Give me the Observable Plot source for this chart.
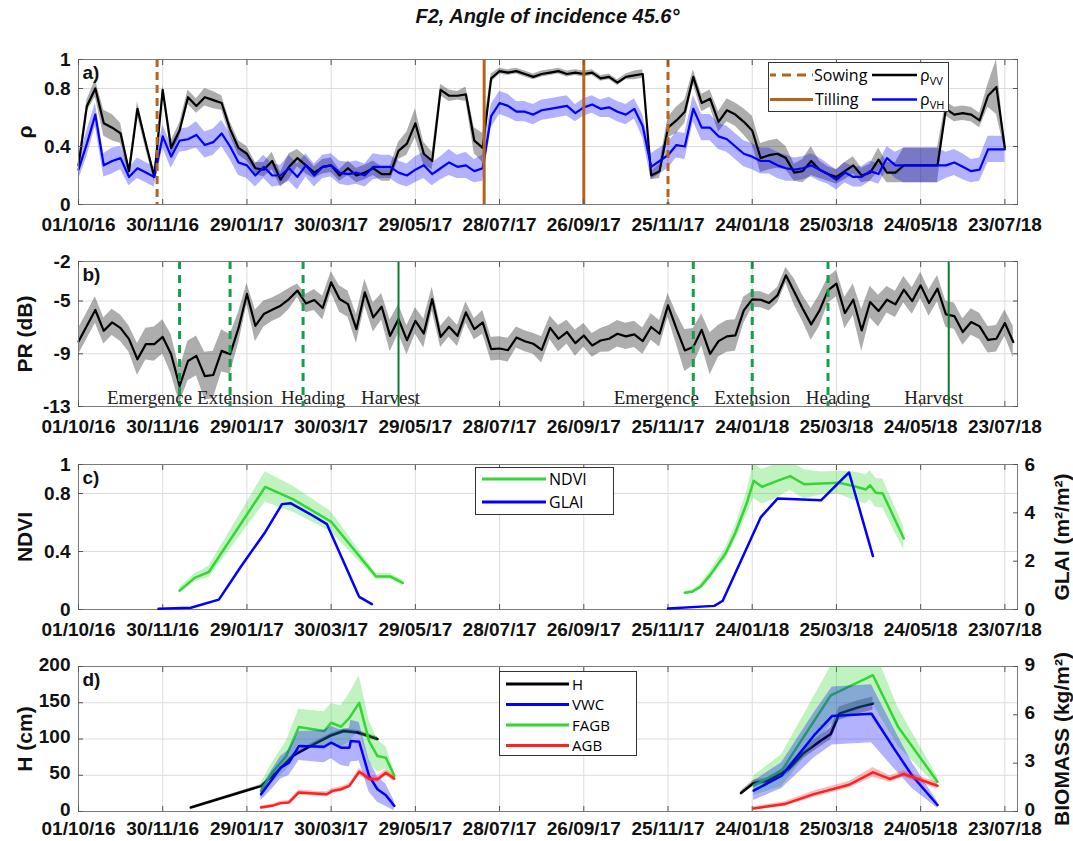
<!DOCTYPE html>
<html><head><meta charset="utf-8">
<script src="https://cdn.jsdelivr.net/npm/d3@7"></script>
<script src="https://cdn.jsdelivr.net/npm/@observablehq/plot@0.6"></script>
<style>
html,body{margin:0;padding:0;background:#fff;overflow:hidden;}
#root{position:relative;width:1073px;height:841px;overflow:hidden;font-family:"Liberation Sans",Arial,sans-serif;}
.title{position:absolute;top:5px;left:78px;width:939px;text-align:center;font:bold italic 20px "Liberation Sans",Arial,sans-serif;color:#111;}
.lg{position:absolute;overflow:visible;font-family:"Open Sans","Liberation Sans",sans-serif;font-size:16px;}
</style></head>
<body><div id="root"><div class="title">F2, Angle of incidence 45.6°</div></div>
<script>
// ---------- DATA (days since 01/10/16) ----------
const xTickLabels = ["01/10/16","30/11/16","29/01/17","30/03/17","29/05/17","28/07/17","26/09/17","25/11/17","24/01/18","25/03/18","24/05/18","23/07/18"];

// a) backscatter ratios
const rhoDays = [0,6,12,18,24,30,36,42,48,54,60,66,72,78,84,90,96,102,108,114,120,126,132,138,144,150,156,162,168,174,180,186,192,198,204,210,216,222,228,234,240,246,252,258,264,270,276,282,288,294,300,306,312,318,324,330,336,342,348,354,360,366,372,378,384,390,396,402,408,414,420,426,432,438,444,450,456,462,468,474,480,486,492,498,504,510,516,522,528,534,540,546,552,558,564,570,576,582,588,612,618,624,630,636,642,648,654,660];
const rhoVV = [0.27,0.68,0.80,0.56,0.53,0.49,0.23,0.66,0.42,0.19,
0.79,0.39,0.51,0.74,0.68,0.74,0.72,0.70,0.52,0.39,
0.35,0.25,0.24,0.30,0.17,0.26,0.32,0.27,0.22,0.26,
0.27,0.20,0.25,0.20,0.22,0.25,0.21,0.21,0.37,0.42,
0.56,0.35,0.30,0.79,0.75,0.75,0.76,0.44,0.39,0.87,
0.92,0.91,0.92,0.90,0.88,0.90,0.91,0.92,0.90,0.91,
0.90,0.91,0.87,0.88,0.84,0.88,0.89,0.90,0.20,0.23,
0.53,0.58,0.64,0.88,0.70,0.73,0.57,0.65,0.62,0.57,
0.51,0.32,0.34,0.35,0.32,0.22,0.23,0.30,0.24,0.21,
0.19,0.23,0.27,0.20,0.22,0.31,0.22,0.22,0.27,
0.27,0.66,0.62,0.63,0.62,0.58,0.75,0.81,0.39];
const rhoVVsd = [.03,.04,.06,.09,.09,.07,.03,.05,.04,.03,
.03,.05,.05,.05,.05,.06,.06,.05,.05,.05,
.05,.04,.05,.06,.05,.09,.06,.06,.04,.05,
.05,.04,.05,.05,.05,.05,.05,.05,.06,.08,
.10,.08,.06,.04,.04,.03,.05,.09,.10,.03,
.02,.02,.02,.02,.02,.02,.02,.02,.02,.02,
.02,.02,.02,.02,.02,.02,.03,.03,.03,.05,
.07,.09,.08,.05,.06,.06,.07,.08,.08,.09,
.10,.10,.10,.10,.08,.06,.08,.10,.06,.05,
.05,.06,.06,.05,.06,.08,.07,.07,.12,
.12,.05,.05,.05,.05,.05,.08,.19,.02];
const rhoVH = [0.24,0.42,0.62,0.27,0.30,0.32,0.19,0.25,0.22,0.19,
0.47,0.33,0.44,0.45,0.48,0.41,0.43,0.49,0.40,0.29,
0.27,0.20,0.26,0.20,0.20,0.25,0.19,0.27,0.20,0.26,
0.27,0.22,0.21,0.22,0.20,0.26,0.26,0.26,0.22,0.20,
0.24,0.27,0.21,0.25,0.29,0.26,0.27,0.23,0.25,0.61,
0.70,0.68,0.64,0.64,0.62,0.65,0.66,0.67,0.68,0.63,
0.67,0.69,0.66,0.67,0.64,0.62,0.66,0.54,0.26,0.30,
0.34,0.41,0.40,0.66,0.53,0.53,0.47,0.45,0.40,0.35,
0.33,0.30,0.30,0.27,0.25,0.24,0.25,0.27,0.24,0.21,
0.17,0.22,0.19,0.19,0.23,0.21,0.32,0.27,0.27,
0.27,0.27,0.29,0.26,0.23,0.24,0.38,0.38,0.38];
const rhoVHsd = [.07,.09,.08,.08,.09,.08,.06,.07,.07,.07,
.08,.08,.08,.08,.09,.09,.09,.09,.09,.09,
.09,.08,.08,.08,.07,.09,.09,.08,.08,.08,
.08,.08,.08,.08,.08,.09,.08,.08,.08,.08,
.09,.09,.08,.08,.09,.08,.09,.08,.09,.08,
.08,.08,.07,.07,.07,.07,.07,.07,.07,.06,
.06,.06,.06,.07,.07,.07,.07,.08,.09,.09,
.09,.09,.09,.09,.09,.09,.09,.09,.09,.09,
.09,.09,.09,.09,.09,.08,.08,.08,.08,.07,
.07,.07,.07,.07,.07,.07,.08,.09,.12,
.12,.09,.09,.09,.08,.08,.09,.09,.09];
const sowingDays = [56, 420];
const tillingDays = [289, 360];

// b) polarisation ratio (dB)
const prDays = [0,6,12,18,24,30,36,42,48,54,60,66,72,78,84,90,96,102,108,114,120,126,132,138,144,150,156,162,168,174,180,186,192,198,204,210,216,222,228,234,240,246,252,258,264,270,276,282,288,294,300,306,312,318,324,330,336,342,348,354,360,366,372,378,384,390,396,402,408,414,420,426,432,438,444,450,456,462,468,474,480,486,492,498,504,510,516,522,528,534,540,546,552,558,564,570,576,582,588,594,600,606,612,618,624,630,636,642,648,654,660,666];
const pr = [-8.07,-6.88,-5.68,-7.26,-6.62,-7.06,-7.89,-9.42,-8.27,-8.27,
-7.72,-9.04,-11.45,-9.55,-9.16,-10.69,-10.61,-8.78,-9.04,-7.06,
-4.46,-6.88,-5.99,-5.66,-5.35,-4.85,-4.21,-5.18,-4.92,-5.53,
-3.58,-4.85,-5.23,-7.13,-4.34,-6.24,-5.43,-7.64,-6.37,-7.97,
-6.50,-7.46,-4.85,-7.72,-6.95,-7.64,-5.86,-7.13,-6.62,-8.65,
-8.60,-8.73,-7.77,-8.05,-8.24,-8.70,-7.03,-7.86,-7.35,-8.19,
-7.61,-8.37,-7.99,-7.86,-7.48,-7.68,-7.53,-8.04,-6.97,-7.48,
-5.33,-7.10,-8.75,-8.49,-7.18,-9.00,-8.04,-7.68,-7.61,-5.71,
-4.87,-4.90,-5.15,-4.57,-3.05,-4.32,-5.58,-6.77,-5.71,-4.19,
-3.68,-5.91,-4.90,-7.23,-5.08,-5.76,-4.90,-5.25,-4.14,-5.00,
-3.81,-5.15,-4.06,-6.01,-6.14,-7.35,-6.59,-6.92,-7.94,-7.86,
-6.67,-8.11];
const prSd = [1.0,1.0,1.0,1.0,1.0,1.0,1.0,1.2,1.2,1.3,
1.3,1.5,1.3,1.5,1.5,1.8,1.8,1.6,1.5,1.2,
0.8,1.2,1.0,0.9,0.9,0.8,0.5,0.7,0.8,0.9,
0.8,1.0,1.0,1.1,1.0,1.1,1.0,1.2,1.1,1.1,
1.0,1.1,0.9,0.8,0.8,0.8,0.8,0.8,0.9,0.9,
0.9,0.9,0.8,0.8,0.8,1.0,0.9,1.0,0.9,1.0,
0.9,0.9,0.9,1.0,1.0,1.0,1.0,1.0,1.0,1.0,
0.9,1.2,1.6,1.4,1.2,1.6,1.2,1.2,1.2,1.0,
0.6,0.6,0.6,0.6,0.6,1.0,1.0,1.2,1.2,1.0,
1.0,1.2,1.2,1.6,1.2,1.2,1.0,1.0,1.0,1.0,
1.0,1.0,1.0,1.0,1.0,1.0,1.0,1.0,1.0,1.0,
1.0,1.2];
const phenoStage = ["Emergence","Extension","Heading","Harvest","Emergence","Extension","Heading","Harvest"];
const phenoDays = [72,108,160,228,438,480,534,620];

// c) NDVI & GLAI
const ndviDays = [72,83,87,93,133,153,180,212,222,231,
  432,437,443,450,461,468,476,481,487,496,507,517,529,542,554,561,564,568,573,588];
const ndvi = [0.13,0.22,0.235,0.26,0.845,0.76,0.605,0.228,0.228,0.183,
  0.115,0.122,0.156,0.237,0.386,0.529,0.731,0.887,0.846,0.880,0.920,0.864,0.869,0.874,0.846,0.828,0.857,0.805,0.80,0.49];
const ndviSd = [0.02,0.03,0.03,0.04,0.105,0.09,0.07,0.02,0.02,0.02,
  0.01,0.01,0.02,0.03,0.04,0.05,0.08,0.12,0.12,0.12,0.10,0.10,0.08,0.08,0.10,0.10,0.10,0.10,0.10,0.08];
const glaiDays = [57,80,100,116,133,145,151,165,177,200,209, 420,453,459,486,498,529,549,566];
const glai = [0.03,0.07,0.41,1.8,3.2,4.36,4.40,3.95,3.53,0.52,0.22, 0.04,0.15,0.36,3.81,4.59,4.52,5.67,2.21];

// d) height & biomass
const hDays = [80,130,141,153,165,180,189,199,213, 472,481,491,506,516,529,536,542,556,566];
const hCm = [5.5,35,54,77,90,105,111,109,100, 25.4,39.3,42.5,58.7,79.5,98,107,135,144,148.8];
const hSd = [1,2,2,3,3,3,3,3,3, 3,4,4,6,7,8,8,9,9,9];
const vwcDays = [130,138,144,150,157,175,180,187,193,194,200,207,213,219,225, 481,501,524,537,565,582,594,612];
const vwc = [1.07,2.0,2.72,3.03,4.06,4.02,4.27,3.96,3.96,4.37,4.33,2.21,1.38,1.01,0.35, 1.29,2.22,4.72,5.93,6.07,3.78,2.22,0.40];
const vwcSd = [0.4,0.6,0.7,0.8,0.9,1.0,1.0,1.1,1.2,1.3,1.2,1.0,0.8,0.7,0.3, 0.6,0.8,1.4,1.8,1.8,1.2,0.8,0.2];
const fagbDays = [130,138,148,157,175,180,187,193,200,207,213,219,225, 481,501,536,566,584,612];
const fagb = [1.28,2.41,3.44,5.24,4.99,5.51,5.26,5.81,6.74,4.37,3.44,3.34,2.21, 1.60,2.54,7.21,8.46,5.24,1.85];
const fagbSd = [0.5,0.6,0.9,1.1,1.2,1.2,1.3,1.5,1.7,1.3,1.0,0.7,0.3, 0.6,1.0,1.8,1.8,1.2,0.3];
const agbDays = [130,138,144,150,157,168,177,181,187,193,200,207,213,219,225, 481,503,524,549,566,578,588,612];
const agb = [0.25,0.35,0.52,0.56,1.18,1.11,1.07,1.28,1.38,1.59,2.47,2.04,2.0,2.41,2.04, 0.19,0.46,1.08,1.66,2.43,2.02,2.33,1.60];
const agbSd = [0.1,0.1,0.12,0.12,0.15,0.15,0.15,0.15,0.15,0.15,0.2,0.2,0.2,0.2,0.2, 0.1,0.15,0.2,0.2,0.3,0.2,0.2,0.2];

// ---------- BUILD ----------
const base = Date.UTC(2016, 9, 1);
const toDate = d => new Date(base + d * 864e5);
const xTicks = xTickLabels.map(d3.utcParse("%d/%m/%y"));
const fmtTick = d3.utcFormat("%d/%m/%y");
const xDomain = [toDate(0), toDate(669)];
const series = (days, vals, sds) => days.map((d, i) => ({
  date: toDate(d), v: vals[i],
  lo: vals[i] - (sds ? sds[i] : 0), hi: vals[i] + (sds ? sds[i] : 0),
  season: d < 400 ? 1 : 2
}));

const BROWN = "#b6641c", BLUE = "#0000ff", GREEN = "#33d633", RED = "#ff2020";
const GRID = "#dddddd", TICK = "#555";
const root = document.getElementById("root");
const FONT = "'Liberation Sans', Arial, sans-serif";
const noLabel = () => "";

function panel({top, height = 200, mb = 35, y, marks, overlay = false}) {
  const p = Plot.plot({
    width: 1073, height, marginLeft: 78, marginRight: 56, marginTop: 20, marginBottom: mb,
    x: overlay ? {type: "utc", domain: xDomain, axis: null} : {type: "utc", domain: xDomain},
    y,
    style: {fontFamily: FONT, fontSize: "19px", fontWeight: "bold", background: "transparent", overflow: "visible", color: "#111"},
    marks
  });
  p.style.position = "absolute"; p.style.left = "0px"; p.style.top = top + "px";
  root.append(p);
}
const grid = (yGrid) => [
  Plot.ruleX(xTicks, {stroke: GRID, strokeWidth: 1}),
  Plot.ruleY(yGrid, {stroke: GRID, strokeWidth: 1})
];
// MATLAB-style inward ticks on all four sides
const inwardTicks = (yTicks, rightTicks) => [
  Plot.axisX({anchor: "bottom", ticks: xTicks, tickSize: 5, dy: -5, tickFormat: noLabel, label: null, stroke: TICK}),
  Plot.axisX({anchor: "top", ticks: xTicks, tickSize: 5, dy: 5, tickFormat: noLabel, label: null, stroke: TICK}),
  Plot.axisY({anchor: "left", ticks: yTicks, tickSize: 5, dx: 5, tickFormat: noLabel, label: null, stroke: TICK}),
  ...(rightTicks ? [Plot.axisY({anchor: "right", ticks: rightTicks, tickSize: 5, dx: -5, tickFormat: noLabel, label: null, stroke: TICK})] : [])
];
const axes = (yTicks, tag, ylabel, rightTicks, pad = 13, ydy = 0) => [
  Plot.frame({stroke: "#7a7a7a"}),
  ...inwardTicks(yTicks, rightTicks),
  Plot.axisX({ticks: xTicks, tickFormat: fmtTick, tickSize: 0, tickPadding: pad, label: null}),
  Plot.axisY({ticks: yTicks, tickFormat: d => String(d), tickSize: 0, tickPadding: 8, dy: ydy, label: null}),
  Plot.text([tag], {text: d => d, frameAnchor: "top-left", dx: 4, dy: 6, lineAnchor: "top", textAnchor: "start", fontSize: 19, fontWeight: "bold"}),
  Plot.text([ylabel], {text: d => d, frameAnchor: "left", dx: -53, rotate: -90, textAnchor: "middle", lineAnchor: "middle", fontSize: 21, fontWeight: "bold"})
];
const rightAxis = (ticks, label, ydy = 0) => [
  Plot.axisY({anchor: "right", ticks, tickSize: 5, dx: -5, tickFormat: noLabel, label: null, stroke: TICK}),
  Plot.axisY({anchor: "right", ticks, tickFormat: d => String(d), tickSize: 0, tickPadding: 7, dy: ydy, label: null}),
  Plot.text([label], {text: d => d, frameAnchor: "right", dx: 45, rotate: -90, textAnchor: "middle", lineAnchor: "middle", fontSize: 21, fontWeight: "bold"})
];

// Panel a
const vv = series(rhoDays, rhoVV, rhoVVsd), vh = series(rhoDays, rhoVH, rhoVHsd);
panel({top: 39, y: {domain: [0, 1]}, marks: [
  ...grid([0.4, 0.8]),
  Plot.areaY(vv, {x: "date", y1: "lo", y2: "hi", fill: "#000", fillOpacity: 0.32, clip: true}),
  Plot.areaY(vh, {x: "date", y1: "lo", y2: "hi", fill: BLUE, fillOpacity: 0.3, clip: true}),
  Plot.lineY(vv, {x: "date", y: "v", stroke: "#000", strokeWidth: 2.2}),
  Plot.lineY(vh, {x: "date", y: "v", stroke: BLUE, strokeWidth: 2.2}),
  Plot.ruleX(sowingDays.map(toDate), {stroke: BROWN, strokeWidth: 3, strokeDasharray: "8,5"}),
  Plot.ruleX(tillingDays.map(toDate), {stroke: BROWN, strokeWidth: 3}),
  ...axes([0, 0.4, 0.8, 1], "a)", "ρ", [0, 0.4, 0.8, 1])
]});

// Panel b
const prs = series(prDays, pr, prSd);
const pheno = phenoDays.map((d, i) => ({date: toDate(d), stage: phenoStage[i]}));
const labelDx = [-30, 5, 10, -8, -37, 0, 10, -15];
panel({top: 241, y: {domain: [-13, -2]}, marks: [
  ...grid([-9, -5]),
  Plot.areaY(prs, {x: "date", y1: "lo", y2: "hi", fill: "#000", fillOpacity: 0.32, clip: true}),
  Plot.lineY(prs, {x: "date", y: "v", stroke: "#000", strokeWidth: 2.2}),
  ...pheno.map((p, i) => Plot.text([p], {x: "date", text: "stage", frameAnchor: "bottom", dx: labelDx[i], dy: -3, lineAnchor: "bottom",
     fontFamily: "'Liberation Serif','Times New Roman',serif", fontWeight: "normal", fontSize: 19, fill: "#222"})),
  Plot.ruleX(pheno.filter(p => p.stage !== "Harvest"), {x: "date", stroke: "#13a04c", strokeWidth: 3, strokeDasharray: "8,6"}),
  Plot.ruleX(pheno.filter(p => p.stage === "Harvest"), {x: "date", stroke: "#0f7a30", strokeWidth: 2}),
  ...axes([-13, -9, -5, -2], "b)", "PR (dB)", [-13, -9, -5, -2])
]});

// Panel c
const nd = series(ndviDays, ndvi, ndviSd), gl = series(glaiDays, glai);
panel({top: 444, y: {domain: [0, 1]}, marks: [
  ...grid([0.4, 0.8]),
  Plot.areaY(nd, {x: "date", y1: "lo", y2: "hi", z: "season", fill: GREEN, fillOpacity: 0.3, clip: true}),
  Plot.lineY(nd, {x: "date", y: "v", z: "season", stroke: GREEN, strokeWidth: 2.5}),
  ...axes([0, 0.4, 0.8, 1], "c)", "NDVI")
]});
panel({top: 444, overlay: true, y: {domain: [0, 6]}, marks: [
  Plot.lineY(gl, {x: "date", y: "v", z: "season", stroke: BLUE, strokeWidth: 2.5}),
  ...rightAxis([0, 2, 4, 6], "GLAI (m²/m²)")
]});

// Panel d
const hs = series(hDays, hCm, hSd), vw = series(vwcDays, vwc, vwcSd), fa = series(fagbDays, fagb, fagbSd), ag = series(agbDays, agb, agbSd);
panel({top: 646, height: 195, mb: 30, y: {domain: [0, 200]}, marks: [
  ...grid([50, 100, 150]),
  Plot.areaY(hs, {x: "date", y1: "lo", y2: "hi", z: "season", fill: "#000", fillOpacity: 0.3, clip: true}),
  Plot.lineY(hs, {x: "date", y: "v", z: "season", stroke: "#000", strokeWidth: 2.5}),
  ...axes([0, 50, 100, 150, 200], "d)", "H (cm)", null, 10, -2)
]});
panel({top: 646, height: 195, mb: 30, overlay: true, y: {domain: [0, 9]}, marks: [
  Plot.areaY(fa, {x: "date", y1: "lo", y2: "hi", z: "season", fill: GREEN, fillOpacity: 0.3, clip: true}),
  Plot.lineY(fa, {x: "date", y: "v", z: "season", stroke: GREEN, strokeWidth: 2.5}),
  Plot.areaY(vw, {x: "date", y1: "lo", y2: "hi", z: "season", fill: BLUE, fillOpacity: 0.3, clip: true}),
  Plot.lineY(vw, {x: "date", y: "v", z: "season", stroke: BLUE, strokeWidth: 2.5}),
  Plot.areaY(ag, {x: "date", y1: "lo", y2: "hi", z: "season", fill: RED, fillOpacity: 0.3, clip: true}),
  Plot.lineY(ag, {x: "date", y: "v", z: "season", stroke: RED, strokeWidth: 2.5}),
  ...rightAxis([0, 3, 6, 9], "BIOMASS (kg/m²)", -2)
]});

// ---------- LEGENDS ----------
root.insertAdjacentHTML("beforeend", `
<svg class="lg" width="181" height="50" style="left:768px;top:62px">
 <rect x="0.5" y="0.5" width="180" height="49" fill="#fff" stroke="#333"/>
 <line x1="2" x2="45" y1="13" y2="13" stroke="${BROWN}" stroke-width="3" stroke-dasharray="9,6" stroke-dashoffset="3"/>
 <text x="46" y="18.5">Sowing</text>
 <line x1="104" x2="149" y1="13" y2="13" stroke="#000" stroke-width="2.5"/>
 <text x="152" y="18.5">ρ<tspan font-size="11" dy="4">VV</tspan></text>
 <line x1="2" x2="45" y1="37.5" y2="37.5" stroke="${BROWN}" stroke-width="3"/>
 <text x="47" y="43">Tilling</text>
 <line x1="104" x2="149" y1="37.5" y2="37.5" stroke="${BLUE}" stroke-width="2.5"/>
 <text x="152" y="43">ρ<tspan font-size="11" dy="4">VH</tspan></text>
</svg>
<svg class="lg" width="140" height="48" style="left:475px;top:467px">
 <rect x="0.5" y="0.5" width="138" height="47" fill="#fff" stroke="#333"/>
 <line x1="7" x2="71" y1="12" y2="12" stroke="${GREEN}" stroke-width="3"/>
 <text x="74" y="17.5">NDVI</text>
 <line x1="7" x2="71" y1="35" y2="35" stroke="${BLUE}" stroke-width="3"/>
 <text x="74" y="40.5">GLAI</text>
</svg>
<svg class="lg" width="138" height="85" style="left:499px;top:671px;font-size:15px">
 <rect x="0.5" y="0.5" width="137" height="84" fill="#fff" stroke="#333"/>
 <line x1="7" x2="70" y1="13" y2="13" stroke="#000" stroke-width="3"/>
 <text x="73" y="18.5">H</text>
 <line x1="7" x2="70" y1="33.5" y2="33.5" stroke="${BLUE}" stroke-width="3"/>
 <text x="73" y="39">VWC</text>
 <line x1="7" x2="70" y1="54" y2="54" stroke="${GREEN}" stroke-width="3"/>
 <text x="73" y="59.5">FAGB</text>
 <line x1="7" x2="70" y1="74.5" y2="74.5" stroke="${RED}" stroke-width="3"/>
 <text x="73" y="80">AGB</text>
</svg>`);
</script>
</body></html>
